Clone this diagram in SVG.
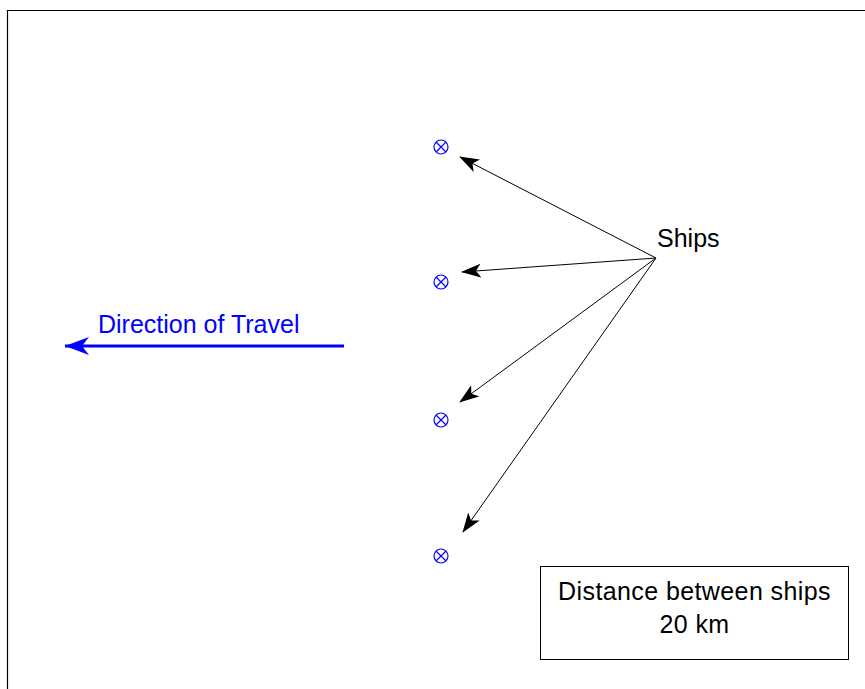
<svg xmlns="http://www.w3.org/2000/svg" width="865" height="689" viewBox="0 0 865 689">
<defs>
<style>
text{font-family:"Liberation Sans",Arial,sans-serif;font-size:25px}
.box text{letter-spacing:0.4px}
.ship circle,.ship path{fill:none;stroke:#0000ff;stroke-width:1.2}
.conn line{stroke:#000;stroke-width:1}
</style>
<marker id="ah" viewBox="0 0 20 14" refX="19" refY="7" markerWidth="20" markerHeight="14" markerUnits="userSpaceOnUse" orient="auto">
<path d="M0,0 L20,7 L0,14 L5,7 Z" fill="#000"/>
</marker>
<marker id="ahb" viewBox="0 0 24 18" refX="24" refY="9" markerWidth="24" markerHeight="18" markerUnits="userSpaceOnUse" orient="auto">
<path d="M0,0 L24,9 L0,18 L7,9 Z" fill="#0000ff"/>
</marker>
</defs>
<rect width="865" height="689" fill="#fff"/>
<path d="M7.5,689 V10.5 H865" fill="none" stroke="#000" stroke-width="1.2"/>
<g id="ship1" class="ship"><circle cx="441" cy="147" r="7"/><path d="M436,142 L446,152 M446,142 L436,152"/></g>
<g id="ship2" class="ship"><circle cx="441" cy="282" r="7"/><path d="M436,277 L446,287 M446,277 L436,287"/></g>
<g id="ship3" class="ship"><circle cx="441" cy="420" r="7"/><path d="M436,415 L446,425 M446,415 L436,425"/></g>
<g id="ship4" class="ship"><circle cx="441" cy="556" r="7"/><path d="M436,551 L446,561 M446,551 L436,561"/></g>
<g id="ships-label"><text x="657" y="247">Ships</text></g>
<g id="direction"><line x1="344" y1="346" x2="65" y2="346" stroke="#0000ff" stroke-width="3" marker-end="url(#ahb)"/>
<text x="98" y="333" fill="#0000ff">Direction of Travel</text></g>
<g id="distance-box" class="box"><rect x="540.5" y="566.5" width="308" height="93" fill="#fff" stroke="#000" stroke-width="1"/>
<text x="694.5" y="600" text-anchor="middle">Distance between ships</text>
<text x="694.5" y="633" text-anchor="middle">20 km</text></g>
<g id="connectors" class="conn">
<line x1="656" y1="258" x2="460" y2="157" marker-end="url(#ah)"/>
<line x1="656" y1="258" x2="462" y2="272" marker-end="url(#ah)"/>
<line x1="656" y1="258" x2="460" y2="402" marker-end="url(#ah)"/>
<line x1="656" y1="258" x2="463" y2="532" marker-end="url(#ah)"/>
</g>
</svg>
